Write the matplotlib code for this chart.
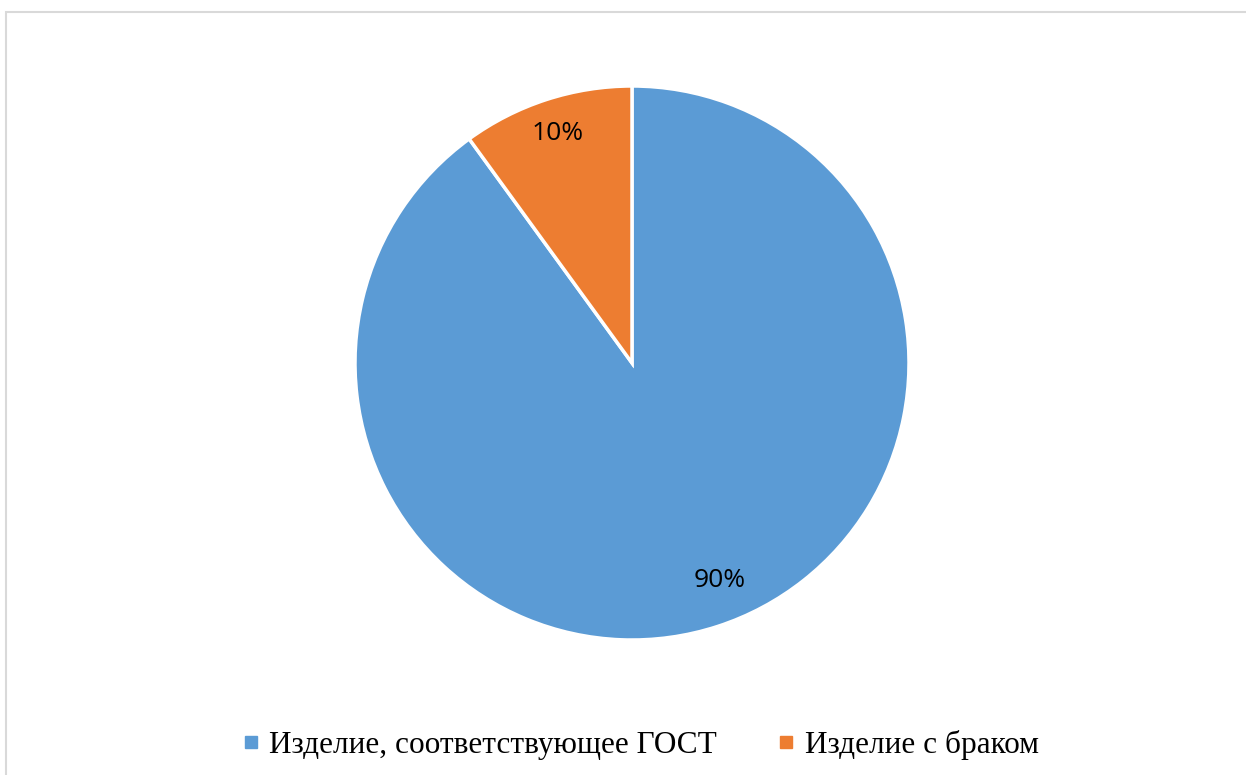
import numpy as np
import matplotlib
matplotlib.use("Agg")
import matplotlib.pyplot as plt
from matplotlib.lines import Line2D
from matplotlib.patches import Rectangle

categories = ["Изделие, соответствующее ГОСТ", "Изделие с браком"]
shares = [90, 10]
colors = ["#5B9BD5", "#ED7D31"]

fig = plt.figure(figsize=(12.46, 7.75), dpi=100)
fig.patch.set_facecolor("white")

# chart frame
fig.add_artist(Rectangle((6 / 1246, -0.01), 1.02, 1 - 12 / 775 + 0.01,
                         transform=fig.transFigure, fill=False,
                         edgecolor="#d9d9d9", linewidth=1.5))

cx, cy, r = 632 / 1246, 1 - 363 / 775, 277
w, h = 2 * r / 1246, 2 * r / 775
ax = fig.add_axes([cx - w / 2, cy - h / 2, w, h])
wedges, texts, autotexts = ax.pie(
    shares, colors=colors, startangle=90, counterclock=False,
    autopct="%d%%", pctdistance=0.87,
    wedgeprops=dict(edgecolor="white", linewidth=2.5),
    textprops=dict(fontsize=19, family="Open Sans", color="black"))

# nudge the large-slice label toward the right edge of the slice
ang = np.deg2rad(-68)
autotexts[0].set_position((0.845 * np.cos(ang), 0.845 * np.sin(ang)))

ax.set_xlim(-1, 1)
ax.set_ylim(-1, 1)
ax.set_aspect("equal")
ax.axis("off")

handles = [Line2D([], [], marker="s", linestyle="none", markersize=8,
                  markerfacecolor=c, markeredgecolor=c) for c in colors]
fig.legend(handles, categories, loc="center", bbox_to_anchor=(0.511, 0.039),
           ncol=2, frameon=False, handletextpad=0.1, columnspacing=1.7,
           handlelength=1.0,
           prop=dict(family="Liberation Serif", size=22.5))

fig.savefig("out.png", dpi=100)
